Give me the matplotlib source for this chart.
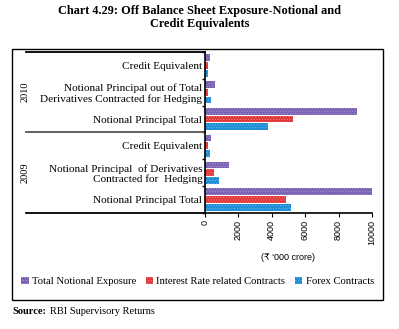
import matplotlib
matplotlib.use("Agg")
import matplotlib.pyplot as plt
from matplotlib.patches import Rectangle
from matplotlib.lines import Line2D
import numpy as np

# ------------------------------------------------------------------
# Data (bottom to top, values in Rs '000 crore)
# ------------------------------------------------------------------
categories = [
    "Notional Principal Total",
    "Notional Principal  of Derivatives\nContracted for  Hedging",
    "Credit Equivalent",
    "Notional Principal Total",
    "Notional Principal out of Total\nDerivatives Contracted for Hedging",
    "Credit Equivalent",
]
years = ["2009", "2010"]
series_names = ["Total Notional Exposure", "Interest Rate related Contracts", "Forex Contracts"]
total_notional = [9980, 1450, 380, 9100, 620, 300]
interest_rate = [4850, 560, 150, 5280, 200, 150]
forex = [5150, 850, 280, 3770, 370, 150]
x_ticks = [0, 2000, 4000, 6000, 8000, 10000]

colors = ["#7b62b4", "#e23a3a", "#1d8fd6"]

serif = ["Liberation Serif", "DejaVu Serif"]
sans = ["Liberation Sans", "DejaVu Sans"]

plt.rcParams["hatch.linewidth"] = 0.4

fig = plt.figure(figsize=(3.99, 3.29), dpi=100)
ax = fig.add_axes([0.514, 0.353, 0.418, 0.489])

y = np.arange(len(categories))
h = 0.25
for i, (vals, c) in enumerate(zip([total_notional, interest_rate, forex], colors)):
    ax.barh(y + (1 - i) * 0.29, vals, height=h, color=c, label=series_names[i],
            hatch="......", edgecolor=matplotlib.colors.to_rgba("white", 0.35), linewidth=0)

ax.set_xlim(0, 10000)
ax.set_ylim(-0.5, len(categories) - 0.5)
ax.set_xticks(x_ticks)
ax.set_xticklabels([str(t) for t in x_ticks], rotation=90, fontsize=6.5, family=sans)
ax.tick_params(axis="x", length=3, width=0.8, pad=2)
ax.set_yticks(y)
ax.set_yticklabels(categories, family=serif, fontsize=8.1, linespacing=1.12)
for lbl in ax.get_yticklabels():
    lbl.set_horizontalalignment("right")
ax.tick_params(axis="y", length=0, pad=2)
ax.set_yticks(np.arange(-0.5, len(categories), 1), minor=True)
ax.tick_params(axis="y", which="minor", length=2, width=1)

for s in ["top", "right"]:
    ax.spines[s].set_visible(False)
ax.spines["left"].set_linewidth(1.2)
ax.spines["bottom"].set_linewidth(1.2)

ax.set_xlabel("(\u20b9 '000 crore)", family=sans, fontsize=6.5, labelpad=6)

# group separators and year labels
x_left = (26 - 205) / 167
for yy, col in [(5.5, "black"), (2.5, "#555555"), (-0.5, "black")]:
    ax.add_line(Line2D([x_left, 0], [yy, yy], transform=ax.get_yaxis_transform(),
                       color=col, lw=1.3, clip_on=False))
for yr, yc in zip(years, [1, 4]):
    ax.text(x_left - 0.01, yc, yr, transform=ax.get_yaxis_transform(), rotation=90,
            ha="center", va="center", family=serif, fontsize=7.5)

ax.legend(loc="center", bbox_to_anchor=(0.495, 0.145), bbox_transform=fig.transFigure,
          ncol=3, frameon=False, prop={"family": serif, "size": 7.7},
          handlelength=0.7, handleheight=0.7, handletextpad=0.3, columnspacing=0.9)

fig.patches.append(Rectangle((0.030, 0.088), 0.930, 0.763, transform=fig.transFigure,
                             fill=False, edgecolor="black", lw=1.0))

fig.text(0.5, 0.948, "Chart 4.29: Off Balance Sheet Exposure-Notional and\nCredit Equivalents",
         ha="center", va="center", family=serif, fontsize=8.8, fontweight="bold",
         linespacing=1.1)
fig.text(0.030, 0.052, "Source:", ha="left", va="center",
         family=serif, fontsize=7.5, fontweight="bold")
fig.text(0.125, 0.052, "RBI Supervisory Returns", ha="left", va="center",
         family=serif, fontsize=7.5)

fig.savefig("out.png", dpi=100)
